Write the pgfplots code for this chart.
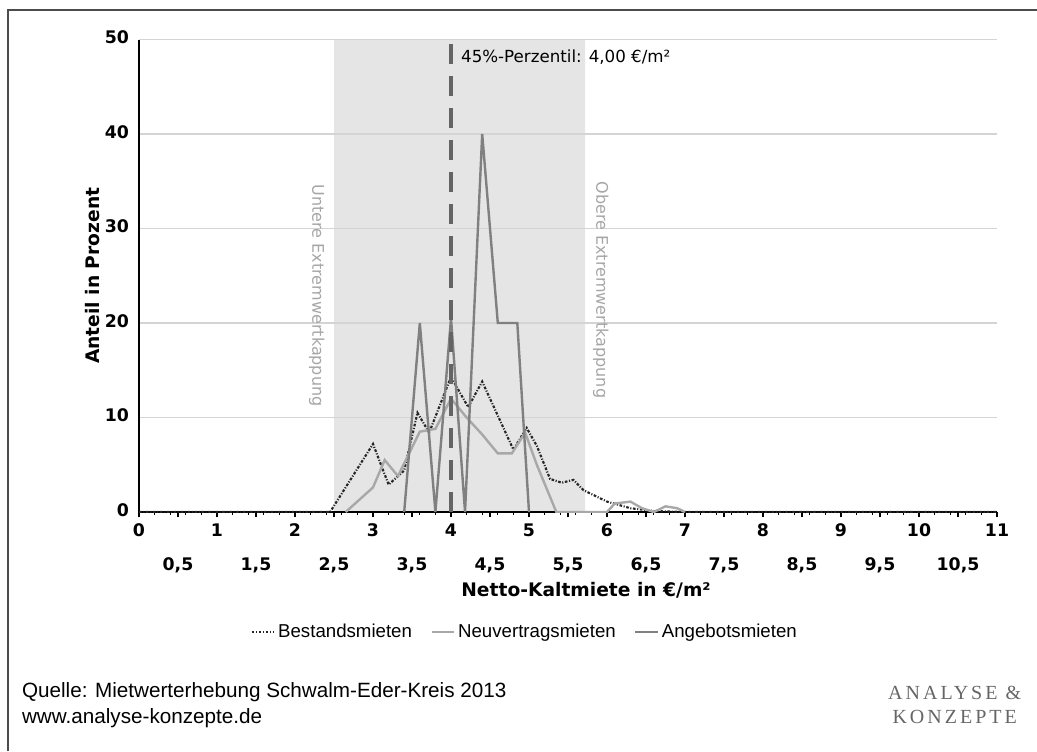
\documentclass[border=0pt]{standalone}
\usepackage{pgfplots}
\pgfplotsset{compat=1.18}
\usepackage{fontspec}
\setmainfont{Liberation Sans}
\newfontfamily\verd{DejaVu Sans}
\newfontfamily\serf{Liberation Serif}[LetterSpace=15]

\definecolor{shade}{RGB}{229,229,229}
\definecolor{gridc}{RGB}{212,212,212}
\definecolor{angebot}{RGB}{128,128,128}
\definecolor{neuv}{RGB}{168,168,168}
\definecolor{perz}{RGB}{100,100,100}

\begin{document}
\begin{tikzpicture}
\begin{axis}[
    set layers=standard,
    scale only axis,
    width=643.5pt, height=354.375pt,
    at={(104.25pt,179.25pt)}, anchor=south west,
    xmin=0, xmax=11, ymin=0, ymax=50,
    axis x line=bottom, axis y line=left,
    axis line style={-, line width=1.4pt, black},
    xtick={0,...,11},
    ytick={0,10,...,50},
    extra x ticks={0.5,1.5,...,10.5},
    extra x tick labels={{0,5},{1,5},{2,5},{3,5},{4,5},{5,5},{6,5},{7,5},{8,5},{9,5},{10,5}},
    extra x tick style={tick label style={yshift=-26pt}},
    typeset ticklabels with strut,
    minor x tick num=4,
    tick align=outside,
    major tick length=4pt, minor tick length=2pt,
    x tick style={black, line width=0.9pt},
    minor x tick style={line width=0.6pt},
    ytick style={draw=none},
    ymajorgrids=true,
    grid style={gridc, line width=1.1pt},
    /pgf/number format/assume math mode=true,
    tick label style={font=\verd\bfseries\fontsize{13}{15}\selectfont},
    y tick label style={anchor=east, xshift=0pt},
    xlabel={Netto-Kaltmiete in €/m²},
    ylabel={Anteil in Prozent},
    label style={font=\verd\bfseries\fontsize{14}{17}\selectfont},
    xlabel style={at={(rel axis cs:0.521,0)}, anchor=center, yshift=-58.5pt},
    ylabel style={at={(rel axis cs:0,0.5)}, anchor=center, yshift=35pt},
    legend columns=3,
    legend style={at={(rel axis cs:0.45,-0.254)}, anchor=center, draw=none,
        fill=none, font=\fontsize{14}{16}\selectfont,
        /tikz/every even column/.append style={column sep=12pt}},
    legend cell align=left,
    legend image post style={line width=1.5pt},
]

% shaded band between the two Extremwertkappungen
\addplot[fill=shade, draw=none, on layer=axis background, forget plot]
    coordinates {(2.5,0) (5.72,0) (5.72,50) (2.5,50)} \closedcycle;

\addplot[black!85, line width=1.6pt, dash pattern=on 2pt off 1.2pt on 0.8pt off 1.2pt] coordinates {
(0,0) (2.45,0) (3.0,7.2) (3.2,2.9) (3.4,4.4) (3.57,10.5) (3.72,8.4)
(4.0,14.3) (4.22,11.1) (4.4,13.8) (4.8,6.6) (4.97,8.9) (5.1,7.0)
(5.27,3.5) (5.42,3.1) (5.57,3.4) (5.7,2.3) (6.0,1.1) (6.3,0.4) (6.6,0.1) (7.0,0) (11,0)
};
\addlegendentry{Bestandsmieten}

\addplot[neuv, line width=1.8pt] coordinates {
(2.65,0) (3.0,2.6) (3.15,5.5) (3.32,3.8) (3.6,8.5) (3.8,8.8) (4.0,12)
(4.2,10) (4.4,8.2) (4.6,6.2) (4.78,6.2) (4.95,8.4) (5.1,5) (5.35,0)
(6.0,0) (6.1,0.9) (6.3,1.1) (6.45,0.4) (6.6,0) (6.75,0.6) (6.9,0.4) (7.0,0)
};
\addlegendentry{Neuvertragsmieten}

\addplot[angebot, line width=1.8pt] coordinates {
(3.4,0) (3.6,20) (3.8,0) (4.0,20.5) (4.18,0) (4.4,40) (4.6,20) (4.85,20) (5.0,0)
};
\addlegendentry{Angebotsmieten}

\draw[perz, line width=3.5pt, dash pattern=on 15pt off 9pt] (axis cs:4,0) -- (axis cs:4,51.2);
\node[anchor=west, font=\verd\fontsize{12.5}{15}\selectfont] at (axis cs:4.07,48.1) {45\%-Perzentil: 4,00 €/m²};

\node[rotate=-90, text=black!35, font=\verd\fontsize{12}{14}\selectfont] at (axis cs:2.28,22.9) {Untere Extremwertkappung};
\node[rotate=-90, text=black!35, font=\verd\fontsize{12}{14}\selectfont] at (axis cs:5.92,23.5) {Obere Extremwertkappung};
\end{axis}

% frame (only left and top visible)
\draw[line width=1.5pt, black!70] (6pt,0) -- (6pt,555.75pt) -- (777.75pt,555.75pt);
\node[anchor=west, font=\fontsize{15.5}{18}\selectfont] at (13pt,44.25pt) {Quelle: Mietwerterhebung Schwalm-Eder-Kreis 2013};
\node[anchor=west, font=\fontsize{15.5}{18}\selectfont] at (13pt,24.75pt) {www.analyse-konzepte.de};
\node[text=black!60, font=\serf\fontsize{15}{17}\selectfont] at (716pt,43.5pt) {ANALYSE \&};
\node[text=black!60, font=\serf\fontsize{15}{17}\selectfont] at (716pt,25.5pt) {KONZEPTE};

\pgfresetboundingbox
\useasboundingbox (0,0) rectangle (777.75pt,563.25pt);
\end{tikzpicture}
\end{document}
